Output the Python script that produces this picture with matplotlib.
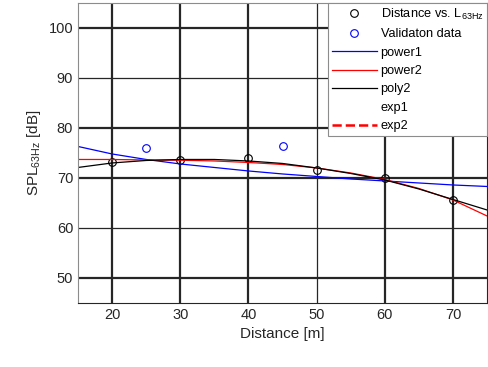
import matplotlib
matplotlib.use('Agg')
import matplotlib.pyplot as plt

# measured points
dist = [20, 30, 40, 50, 60, 70]
spl = [73.2, 73.5, 73.9, 71.5, 70.0, 65.6]

# validation points
val_dist = [25, 45]
val_spl = [75.9, 76.4]

fit_x = [15, 20, 25, 30, 35, 40, 45, 50, 55, 60, 65, 70, 75]
power1 = [76.3, 74.8, 73.7, 72.8, 72.1, 71.4, 70.8, 70.3, 69.8, 69.4, 69.0, 68.6, 68.3]
power2 = [73.7, 73.7, 73.6, 73.55, 73.4, 73.1, 72.7, 72.0, 71.0, 69.7, 67.9, 65.6, 62.4]
poly2 = [72.1, 73.0, 73.5, 73.7, 73.7, 73.4, 72.9, 72.0, 70.9, 69.6, 67.8, 65.7, 63.6]

xticks = [20, 30, 40, 50, 60, 70]
yticks = [50, 60, 70, 80, 90, 100]

plt.rcParams['font.family'] = ['Liberation Sans', 'DejaVu Sans']
plt.rcParams['mathtext.fontset'] = 'custom'
plt.rcParams['mathtext.rm'] = 'Liberation Sans'

fig = plt.figure(figsize=(4.89, 3.67), dpi=100)
ax = fig.add_axes([0.1595, 0.1744, 0.8365, 0.8176])

ax.plot(dist, spl, 'o', mfc='none', mec='black', ms=5.5, mew=0.8, label='Distance vs. L$_{\\mathrm{63Hz}}$')
ax.plot(val_dist, val_spl, 'o', mfc='none', mec='blue', ms=5.5, mew=0.8, label='Validaton data')
ax.plot(fit_x, power1, color='blue', lw=0.9, label='power1')
ax.plot(fit_x, power2, color='red', lw=0.9, label='power2')
ax.plot(fit_x, poly2, color='black', lw=0.9, label='poly2')
ax.plot([], [], color='none', label='exp1')
ax.plot([], [], color='red', ls='--', lw=1.8, label='exp2')

ax.set_xlim(15, 75)
ax.set_ylim(45, 105)
ax.set_xticks(xticks)
ax.set_yticks(yticks)
ax.tick_params(direction='in', length=0, labelsize=10.5, colors='#262626')
ax.set_axisbelow(True)
ax.grid(True, color='#262626', lw=1.6)
# a few grid lines render thinner in the original
for line, v in zip(ax.get_xgridlines(), xticks):
    if v == 50:
        line.set_linewidth(0.9)
for line, v in zip(ax.get_ygridlines(), yticks):
    if v in (60, 90):
        line.set_linewidth(0.9)

for side in ['left', 'top']:
    ax.spines[side].set_color('#8c8c8c')
for side in ['bottom', 'right']:
    ax.spines[side].set_color('#262626')

ax.set_xlabel('Distance [m]', fontsize=11, color='#262626')
ax.set_ylabel('SPL$_{\\mathrm{63Hz}}$ [dB]', fontsize=11, color='#262626')

leg = ax.legend(loc='upper right', fontsize=9.2, handlelength=3.5, handletextpad=0.3,
                labelspacing=0.5, borderpad=0.3, borderaxespad=0.0, fancybox=False,
                framealpha=1, edgecolor='#8c8c8c')
leg.get_frame().set_linewidth(0.8)

plt.savefig('out.png', dpi=100)
plt.close()
